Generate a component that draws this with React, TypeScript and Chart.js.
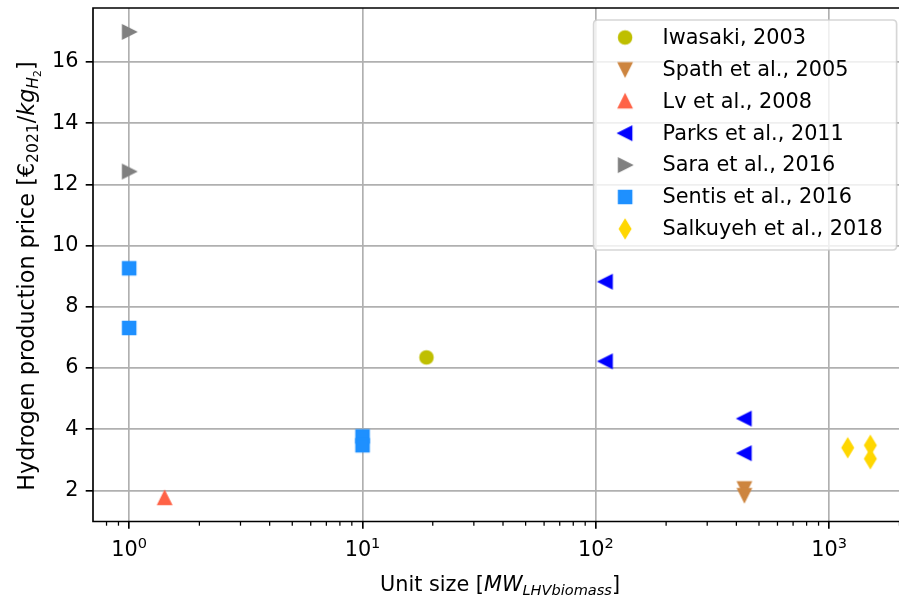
import React, { useEffect, useRef } from 'react';
import { Chart, registerables } from 'chart.js';

Chart.register(...registerables);

// ---------- data ----------
const studies = [
  'Iwasaki, 2003',
  'Spath et al., 2005',
  'Lv et al., 2008',
  'Parks et al., 2011',
  'Sara et al., 2016',
  'Sentis et al., 2016',
  'Salkuyeh et al., 2018',
];
const iwasakiSize = [18.8];
const iwasakiPrice = [6.35];
const spathSize = [433, 433];
const spathPrice = [2.07, 1.85];
const lvSize = [1.42];
const lvPrice = [1.76];
const parksSize = [110, 110, 433, 433];
const parksPrice = [8.82, 6.22, 4.35, 3.22];
const saraSize = [1, 1];
const saraPrice = [16.98, 12.42];
const sentisSize = [1, 1, 10, 10];
const sentisPrice = [9.26, 7.31, 3.77, 3.48];
const salkuyehSize = [1200, 1500, 1500];
const salkuyehPrice = [3.4, 3.48, 3.04];

const colors = ['#bfbf00', '#cd853f', '#ff6347', '#0000ff', '#808080', '#1e90ff', '#ffd700'];
const markers = ['o', 'v', '^', '<', '>', 's', 'd'];

const xTicks = [1, 10, 100, 1000];
const xTickExp = ['0', '1', '2', '3'];
const xMinorTicks = [0.8, 0.9, 2, 3, 4, 5, 6, 7, 8, 9, 20, 30, 40, 50, 60, 70, 80, 90, 200, 300, 400, 500, 600, 700, 800, 900, 2000];
const yTicks = [2, 4, 6, 8, 10, 12, 14, 16];

const sizes = [iwasakiSize, spathSize, lvSize, parksSize, saraSize, sentisSize, salkuyehSize];
const prices = [iwasakiPrice, spathPrice, lvPrice, parksPrice, saraPrice, sentisPrice, salkuyehPrice];

// ---------- style ----------
const FONT = '"DejaVu Sans", "Liberation Sans", sans-serif';
const FS = 20.8;
const LW = 1.67;

type Seg = { text: string; italic?: boolean; scale?: number; shift?: number };

function fontFor(s: Seg, fs: number) {
  return `${s.italic ? 'italic ' : ''}${fs * (s.scale || 1)}px ${FONT}`;
}

function drawRich(ctx: CanvasRenderingContext2D, segs: Seg[], x: number, y: number, align: 'center' | 'left', fs: number = FS) {
  let total = 0;
  const ws = segs.map((s) => {
    ctx.font = fontFor(s, fs);
    const w = ctx.measureText(s.text).width;
    total += w;
    return w;
  });
  let cx = align === 'center' ? x - total / 2 : x;
  ctx.textAlign = 'left';
  ctx.textBaseline = 'alphabetic';
  segs.forEach((s, i) => {
    ctx.font = fontFor(s, fs);
    ctx.fillText(s.text, cx, y + (s.shift || 0) * fs);
    cx += ws[i];
  });
}

function makeMarker(kind: string, color: string): HTMLCanvasElement {
  const ms = 12.5;
  const ew = 2.08;
  const size = 30;
  const c = document.createElement('canvas');
  c.width = size;
  c.height = size;
  const ctx = c.getContext('2d')!;
  const cx = size / 2;
  const cy = size / 2;
  const h = ms / 2;
  ctx.beginPath();
  if (kind === 'o') {
    ctx.arc(cx, cy, h, 0, Math.PI * 2);
  } else if (kind === '^') {
    ctx.moveTo(cx, cy - h); ctx.lineTo(cx - h, cy + h); ctx.lineTo(cx + h, cy + h);
  } else if (kind === 'v') {
    ctx.moveTo(cx, cy + h); ctx.lineTo(cx - h, cy - h); ctx.lineTo(cx + h, cy - h);
  } else if (kind === '<') {
    ctx.moveTo(cx - h, cy); ctx.lineTo(cx + h, cy - h); ctx.lineTo(cx + h, cy + h);
  } else if (kind === '>') {
    ctx.moveTo(cx + h, cy); ctx.lineTo(cx - h, cy - h); ctx.lineTo(cx - h, cy + h);
  } else if (kind === 's') {
    ctx.rect(cx - h, cy - h, ms, ms);
  } else if (kind === 'd') {
    const dy = ms * 0.7071;
    const dx = dy * 0.6;
    ctx.moveTo(cx, cy - dy); ctx.lineTo(cx + dx, cy); ctx.lineTo(cx, cy + dy); ctx.lineTo(cx - dx, cy);
  }
  ctx.closePath();
  ctx.fillStyle = color;
  ctx.fill();
  ctx.lineWidth = ew;
  ctx.lineJoin = 'miter';
  ctx.strokeStyle = color;
  ctx.stroke();
  return c;
}

const xLabelSegs: Seg[] = [
  { text: 'Unit size [' },
  { text: 'MW', italic: true },
  { text: 'LHVbiomass', italic: true, scale: 0.7, shift: 0.2 },
  { text: ']' },
];
const yLabelSegs: Seg[] = [
  { text: 'Hydrogen production price [€' },
  { text: '2021', scale: 0.7, shift: 0.2 },
  { text: '/' },
  { text: 'kg', italic: true },
  { text: 'H', italic: true, scale: 0.7, shift: 0.2 },
  { text: '2', scale: 0.49, shift: 0.33 },
  { text: ']' },
];

export default function App() {
  const ref = useRef<HTMLCanvasElement>(null);

  useEffect(() => {
    const canvas = ref.current;
    if (!canvas) return;
    const imgs = markers.map((m, i) => makeMarker(m, colors[i]));

    const decor = {
      id: 'decor',
      afterDraw(chart: any) {
        const ctx: CanvasRenderingContext2D = chart.ctx;
        const a = chart.chartArea;
        const xs = chart.scales.x;
        ctx.save();
        // spines
        ctx.strokeStyle = '#000';
        ctx.lineWidth = LW;
        ctx.lineCap = 'square';
        ctx.beginPath();
        ctx.moveTo(a.left, a.bottom); ctx.lineTo(a.left, a.top); ctx.lineTo(a.right, a.top); ctx.lineTo(a.right, a.bottom); ctx.closePath();
        ctx.stroke();
        // minor ticks
        ctx.lineWidth = 1.25;
        ctx.lineCap = 'butt';
        xMinorTicks.forEach((v) => {
          const px = xs.getPixelForValue(v);
          if (px < a.left || px > a.right) return;
          ctx.beginPath();
          ctx.moveTo(px, a.bottom);
          ctx.lineTo(px, a.bottom + 4.2);
          ctx.stroke();
        });
        // x tick labels 10^n
        ctx.fillStyle = '#000';
        xTicks.forEach((v, i) => {
          const px = xs.getPixelForValue(v);
          drawRich(ctx, [{ text: '10' }, { text: xTickExp[i], scale: 0.7, shift: -0.4 }], px, 556, 'center');
        });
        // axis titles
        drawRich(ctx, xLabelSegs, (a.left + a.right) / 2, 591, 'center');
        ctx.save();
        ctx.translate(34, 276);
        ctx.rotate(-Math.PI / 2);
        drawRich(ctx, yLabelSegs, 0, 0, 'center', 22.3);
        ctx.restore();
        // legend
        const right = a.right - 10.4;
        const top = a.top + 12;
        const w = 303;
        const hgt = 230;
        const left = right - w;
        const r = 4;
        ctx.beginPath();
        ctx.moveTo(left + r, top);
        ctx.lineTo(right - r, top);
        ctx.quadraticCurveTo(right, top, right, top + r);
        ctx.lineTo(right, top + hgt - r);
        ctx.quadraticCurveTo(right, top + hgt, right - r, top + hgt);
        ctx.lineTo(left + r, top + hgt);
        ctx.quadraticCurveTo(left, top + hgt, left, top + hgt - r);
        ctx.lineTo(left, top + r);
        ctx.quadraticCurveTo(left, top, left + r, top);
        ctx.closePath();
        ctx.fillStyle = 'rgba(255,255,255,0.8)';
        ctx.fill();
        ctx.strokeStyle = 'rgba(204,204,204,0.8)';
        ctx.lineWidth = LW;
        ctx.stroke();
        studies.forEach((s, i) => {
          const cy = top + 17.5 + i * 31.9;
          ctx.drawImage(imgs[i], left + 31.5 - imgs[i].width / 2, cy - imgs[i].height / 2);
          ctx.fillStyle = '#000';
          ctx.font = `${FS}px ${FONT}`;
          ctx.textAlign = 'left';
          ctx.textBaseline = 'middle';
          ctx.fillText(s, left + 69, cy + 1);
        });
        ctx.restore();
      },
    };

    const chart = new Chart(canvas, {
      type: 'scatter',
      data: {
        datasets: studies.map((label, i) => ({
          label,
          data: sizes[i].map((x, j) => ({ x, y: prices[i][j] })),
          pointStyle: imgs[i] as any,
          pointRadius: 7,
          pointHoverRadius: 7,
          backgroundColor: colors[i],
          borderColor: colors[i],
          showLine: false,
        })),
      },
      options: {
        animation: false,
        responsive: false,
        events: [],
        layout: { padding: { top: 7, right: 7, left: 0, bottom: 0 } },
        plugins: { legend: { display: false }, tooltip: { enabled: false } },
        scales: {
          x: {
            type: 'logarithmic',
            min: 0.701,
            max: 2154,
            afterBuildTicks: (s: any) => { s.ticks = xTicks.map((v) => ({ value: v })); },
            afterFit: (s: any) => { s.height = 78.5; s.paddingLeft = 0; s.paddingRight = 0; },
            grid: { color: '#b0b0b0', lineWidth: LW, drawTicks: true, tickLength: 7.3, tickColor: '#000', tickWidth: LW },
            border: { display: false },
            ticks: { display: false },
          },
          y: {
            type: 'linear',
            min: 0.99,
            max: 17.76,
            afterBuildTicks: (s: any) => { s.ticks = yTicks.map((v) => ({ value: v })); },
            afterFit: (s: any) => { s.width = 93; s.paddingTop = 0; s.paddingBottom = 0; },
            grid: { color: '#b0b0b0', lineWidth: LW, drawTicks: true, tickLength: 7.3, tickColor: '#000', tickWidth: LW },
            border: { display: false },
            ticks: {
              color: '#000',
              padding: 7.3,
              font: { family: FONT, size: FS },
              callback: (v: any) => String(v),
            },
          },
        },
      },
      plugins: [decor],
    });
    return () => chart.destroy();
  }, []);

  return (
    <div style={{ position: 'absolute', left: 0, top: 0, width: 899, height: 600, overflow: 'hidden', background: '#fff' }}>
      <canvas ref={ref} width={915} height={600} style={{ width: 915, height: 600, display: 'block' }} />
    </div>
  );
}
